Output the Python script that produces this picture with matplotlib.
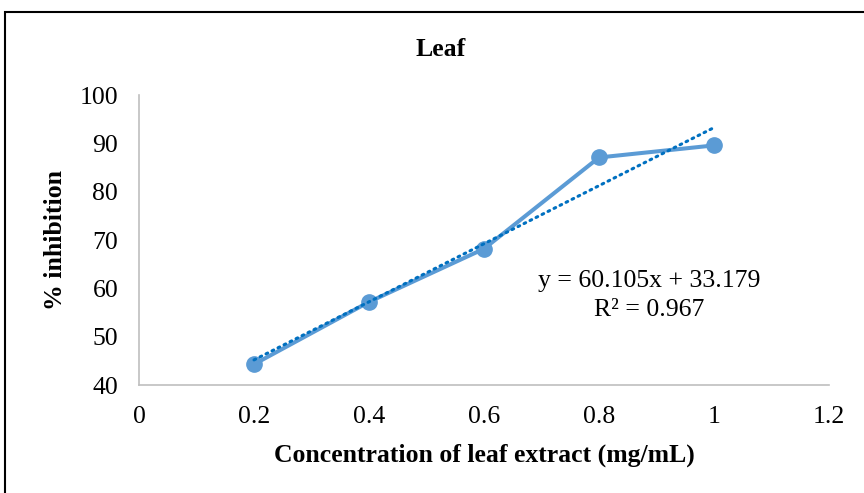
import matplotlib as mpl
mpl.use('Agg')
import matplotlib.pyplot as plt
from matplotlib.patches import Rectangle
import numpy as np

# data
concentration = [0.2, 0.4, 0.6, 0.8, 1.0]
inhibition = [44.3, 57.2, 68.2, 87.1, 89.6]
slope = 60.105
intercept = 33.179
r_squared = 0.967

plt.rcParams['font.family'] = ['Liberation Serif', 'DejaVu Serif']

fig = plt.figure(figsize=(8.64, 4.93), dpi=100)
ax = fig.add_axes([0.1609, 0.219, 0.7986, 0.588])

ax.plot(concentration, inhibition, color='#5B9BD5', linewidth=2.9,
        marker='o', markersize=11, zorder=3)

trend_x = np.array([concentration[0], concentration[-1]])
ax.plot(trend_x, slope * trend_x + intercept, color='#0070C0',
        linewidth=2.2, linestyle=(0, (0.6, 1.6)), dash_capstyle='round',
        zorder=4)

ax.text(0.887, 61.5, 'y = %.3fx + %.3f' % (slope, intercept), ha='center',
        va='center', fontsize=18.5)
ax.text(0.887, 55.5, 'R² = %.3f' % r_squared, ha='center', va='center',
        fontsize=18.5)

ax.set_xlim(0, 1.2)
ax.set_ylim(40, 100)
ax.set_xticks([0, 0.2, 0.4, 0.6, 0.8, 1.0, 1.2])
ax.set_xticklabels(['0', '0.2', '0.4', '0.6', '0.8', '1', '1.2'])
ax.set_yticks(range(40, 101, 10))
ax.tick_params(length=0, labelsize=18.5)
ax.tick_params(axis='y', pad=15)
ax.tick_params(axis='x', pad=15)

for side in ['top', 'right']:
    ax.spines[side].set_visible(False)
for side in ['left', 'bottom']:
    ax.spines[side].set_color('#BFBFBF')
    ax.spines[side].set_linewidth(1.2)

fig.text(441 / 864, 1 - 49 / 493, 'Leaf', ha='center', va='center',
         fontsize=18.5, fontweight='bold')
ax.set_xlabel('Concentration of leaf extract (mg/mL)', fontsize=18.5,
              fontweight='bold', labelpad=11)
ax.set_ylabel('% inhibition', fontsize=18.5, fontweight='bold', labelpad=9)

# outer chart frame, cut off on the right and bottom
fig.patches.append(Rectangle((5 / 864, -0.05), 1.1, 1 - 12 / 493 + 0.05,
                             transform=fig.transFigure, fill=False,
                             edgecolor='#000000', linewidth=1.5))

fig.savefig('out.png', dpi=100)
